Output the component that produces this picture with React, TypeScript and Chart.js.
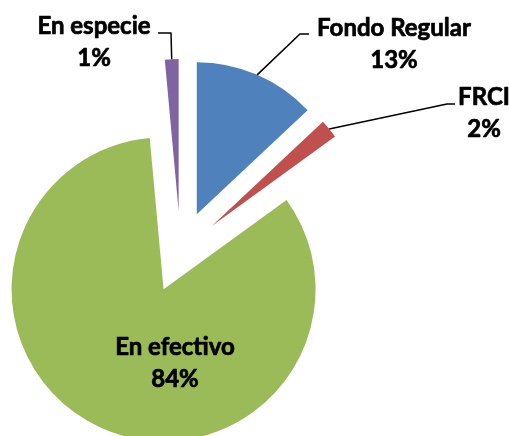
import React, { useEffect, useRef } from "react";
import { Chart, registerables } from "chart.js";

Chart.register(...registerables);

// ---- data ----
const categories = ["Fondo Regular", "FRCI", "En efectivo", "En especie"];
const shares = [13.0, 2.0, 83.55, 1.45];
const colors = ["#4F81BD", "#C0504D", "#9BBB59", "#8064A2"];

// ---- layout ----
const PIE_RADIUS = 152;
const EXPLODE = 41;
const FONT = "bold 24px Lato, 'Open Sans', sans-serif";
const LINE_GAP = 32;

// label text centre x, first baseline y, leader elbow and end (canvas px)
const labelLayout: { x: number; y: number; elbow: number[] | null; end: number[] | null }[] = [
  { x: 394, y: 36, elbow: [300, 34], end: [309, 34] },
  { x: 484, y: 105, elbow: [447, 104], end: [455, 104] },
  { x: 175, y: 355, elbow: null, end: null },
  { x: 94, y: 34, elbow: [171, 33], end: [158, 33] },
];

const explodePlugin = {
  id: "explodeSlices",
  beforeDatasetsDraw(chart: any) {
    const meta = chart.getDatasetMeta(0);
    meta.data.forEach((arc: any) => {
      if (arc.__exploded) return;
      const orig = arc.draw;
      arc.draw = function (ctx: CanvasRenderingContext2D, area: any) {
        const mid = (this.startAngle + this.endAngle) / 2;
        ctx.save();
        ctx.translate(Math.cos(mid) * EXPLODE, Math.sin(mid) * EXPLODE);
        orig.call(this, ctx, area);
        ctx.restore();
      };
      arc.__exploded = true;
    });
  },
};

const labelPlugin = {
  id: "sliceLabels",
  afterDatasetsDraw(chart: any) {
    const ctx: CanvasRenderingContext2D = chart.ctx;
    const meta = chart.getDatasetMeta(0);
    const total = shares.reduce((a, b) => a + b, 0);
    ctx.save();
    meta.data.forEach((arc: any, i: number) => {
      const L = labelLayout[i];
      const mid = (arc.startAngle + arc.endAngle) / 2;
      if (L.elbow && L.end) {
        const r = arc.outerRadius + EXPLODE;
        const sx = arc.x + Math.cos(mid) * r;
        const sy = arc.y + Math.sin(mid) * r;
        ctx.beginPath();
        ctx.moveTo(sx, sy);
        ctx.lineTo(L.elbow[0], L.elbow[1]);
        ctx.lineTo(L.end[0], L.end[1]);
        ctx.strokeStyle = "#000";
        ctx.lineWidth = 1.5;
        ctx.stroke();
      }
      ctx.font = FONT;
      ctx.fillStyle = "#000";
      ctx.strokeStyle = "#000";
      ctx.lineWidth = 0.7;
      ctx.lineJoin = "round";
      ctx.textAlign = "center";
      ctx.textBaseline = "alphabetic";
      const pct = Math.round((shares[i] / total) * 100) + "%";
      ctx.fillText(categories[i], L.x, L.y);
      ctx.strokeText(categories[i], L.x, L.y);
      ctx.fillText(pct, L.x, L.y + LINE_GAP);
      ctx.strokeText(pct, L.x, L.y + LINE_GAP);
    });
    ctx.restore();
  },
};

export default function App() {
  const ref = useRef<HTMLCanvasElement | null>(null);
  useEffect(() => {
    if (!ref.current) return;
    const chart = new Chart(ref.current, {
      type: "pie",
      data: {
        labels: categories,
        datasets: [
          {
            data: shares,
            backgroundColor: colors,
            borderWidth: 0,
          },
        ],
      },
      options: {
        animation: false,
        responsive: false,
        radius: PIE_RADIUS,
        layout: { padding: { left: 0, right: 148, top: 68, bottom: 0 } },
        plugins: {
          legend: { display: false },
          tooltip: { enabled: false },
        },
      } as any,
      plugins: [explodePlugin, labelPlugin],
    });
    return () => chart.destroy();
  }, []);
  return (
    <div style={{ position: "fixed", left: 0, top: 0, width: 509, height: 436, background: "#fff" }}>
      <canvas ref={ref} width={509} height={436} />
    </div>
  );
}
